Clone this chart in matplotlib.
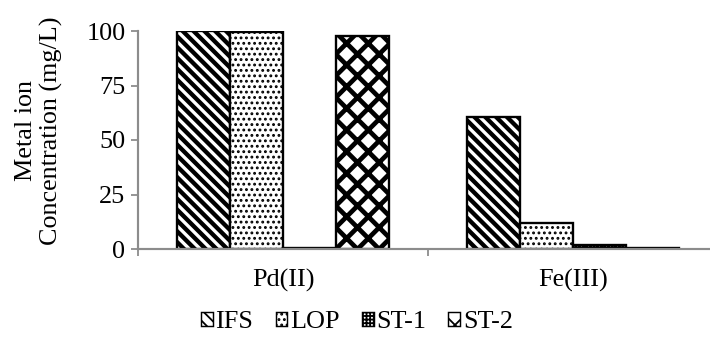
import numpy as np
import matplotlib
matplotlib.use("Agg")
from matplotlib import pyplot as plt
from matplotlib.patches import Patch

metales = ["Pd(II)", "Fe(III)"]
series = ["IFS", "LOP", "ST-1", "ST-2"]
ifs = [99.8, 60.5]
lop = [99.4, 11.8]
st1 = [0.3, 1.7]
st2 = [97.8, 0.3]
valores = [ifs, lop, st1, st2]
tramas = ["\\\\\\\\", "....", "++++++", "xx"]
grosor_trama = [2.4, 1.0, 1.2, 2.6]

plt.rcParams["font.family"] = "Liberation Serif"
plt.rcParams["font.size"] = 14.5

dpi = 130
fig = plt.figure(figsize=(710 / dpi, 345 / dpi), dpi=dpi)
ax = fig.add_axes([138 / 710, 96 / 345, 580 / 710, 218 / 345])

x = np.arange(len(metales))
ancho = 0.183
handles = []
for i, (serie, vals) in enumerate(zip(series, valores)):
    pos = x - 1.5 * ancho + i * ancho
    with plt.rc_context({"hatch.linewidth": grosor_trama[i], "hatch.color": "black"}):
        ax.bar(pos, vals, ancho, color="white", edgecolor="black",
               linewidth=1.3, hatch=tramas[i])
        handles.append(Patch(facecolor="white", edgecolor="black",
                             linewidth=0.8, hatch=tramas[i], label=serie))

ax.set_xlim(-0.5, 1.5)
ax.set_ylim(0, 100)
ax.set_yticks([0, 25, 50, 75, 100])
ax.set_xticks([-0.5, 0.5, 1.5])
ax.set_xticklabels([])
ax.set_xticks(x, minor=True)
ax.set_xticklabels(metales, minor=True)
ax.tick_params(axis="x", which="major", length=4, color="#8c8c8c", width=1)
ax.tick_params(axis="x", which="minor", length=0, pad=11)
ax.tick_params(axis="y", length=4, color="#8c8c8c", width=1, pad=3)

for lado in ["top", "right"]:
    ax.spines[lado].set_visible(False)
for lado in ["left", "bottom"]:
    ax.spines[lado].set_color("#8c8c8c")
    ax.spines[lado].set_linewidth(1.2)

fig.text(39 / 710, 1 - 131 / 345, "Metal ion\nConcentration (mg/L)",
         rotation=90, ha="center", va="center", multialignment="center",
         linespacing=1.2)

fig.legend(handles=handles, loc="center", bbox_to_anchor=(357 / 710, 1 - 322 / 345),
           ncol=4, frameon=False, handlelength=0.45, handleheight=0.45,
           handletextpad=0.1, columnspacing=0.85, borderpad=0)

fig.savefig("out.png", dpi=dpi)
